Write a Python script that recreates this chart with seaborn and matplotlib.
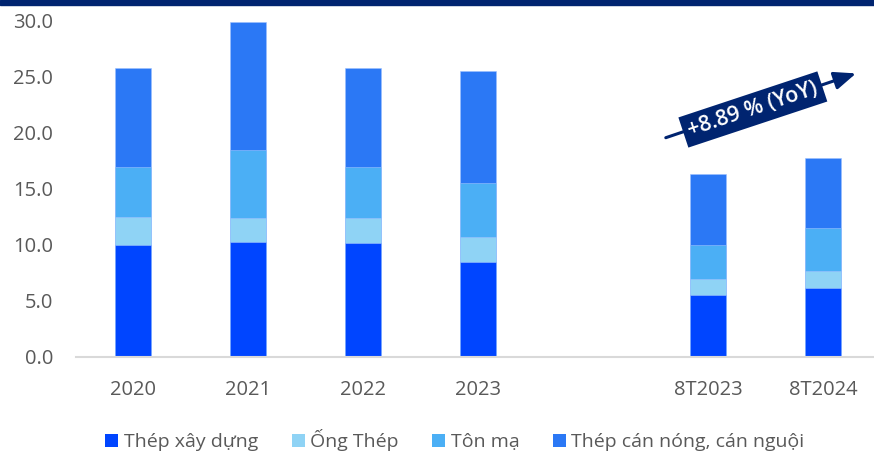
import numpy as np
import pandas as pd
import matplotlib
matplotlib.use("Agg")
import matplotlib.pyplot as plt
import seaborn as sns
from matplotlib.patches import Patch, Rectangle

categories = ["2020", "2021", "2022", "2023", "8T2023", "8T2024"]
axis_order = ["2020", "2021", "2022", "2023", " ", "8T2023", "8T2024"]
thep_xay_dung = [10.0, 10.3, 10.2, 8.5, 5.5, 6.2]
ong_thep = [2.5, 2.1, 2.2, 2.2, 1.5, 1.5]
ton_ma = [4.5, 6.1, 4.6, 4.8, 3.0, 3.8]
thep_can = [8.8, 11.4, 8.8, 10.0, 6.3, 6.25]
series_names = ["Thép xây dựng", "Ống Thép", "Tôn mạ", "Thép cán nóng, cán nguội"]
series_colors = ["#0045FF", "#8FD3F5", "#4BAFF5", "#2B78F5"]
yticks = [0, 5, 10, 15, 20, 25, 30]
yoy_label = "+8.89 % (YoY)"

sns.set_theme(style="white")
plt.rcParams["font.family"] = ["Open Sans", "DejaVu Sans"]

df = pd.DataFrame({
    "cat": categories,
    "s1": thep_xay_dung,
    "s2": ong_thep,
    "s3": ton_ma,
    "s4": thep_can,
})
df["c1"] = df["s1"]
df["c2"] = df["c1"] + df["s2"]
df["c3"] = df["c2"] + df["s3"]
df["c4"] = df["c3"] + df["s4"]

W, H = 874, 451
fig = plt.figure(figsize=(W / 100, H / 100), dpi=100)
ax = fig.add_axes([75.5 / W, (H - 357) / H, (W - 75.5) / W, (357 - 21) / H])

for col, color in zip(["c4", "c3", "c2", "c1"], series_colors[::-1]):
    sns.barplot(data=df, x="cat", y=col, order=axis_order, color=color,
                width=0.31, saturation=1, ax=ax, edgecolor="#9CC0FF", linewidth=0.4)

ax.set_xlim(-0.5, (W - 133) / 115)
ax.set_ylim(0, 30)
ax.set_yticks(yticks)
ax.set_yticklabels([f"{v:.1f}" for v in yticks])
ax.set_xlabel("")
ax.set_ylabel("")
for s in ["top", "right", "left"]:
    ax.spines[s].set_visible(False)
ax.spines["bottom"].set_color("#D9D9D9")
ax.spines["bottom"].set_linewidth(1.5)
ax.tick_params(axis="both", length=0, labelsize=14.5, colors="#595959")
ax.tick_params(axis="y", pad=16)
ax.tick_params(axis="x", pad=16.5)

# YoY annotation
ax.annotate("", xy=(6.31, 25.4), xytext=(4.61, 19.5), xycoords="data",
            arrowprops=dict(arrowstyle="-|>,head_length=1.1,head_width=0.45",
                            color="#002470", lw=2.2), annotation_clip=False)
ax.text(5.39, 22.1, yoy_label, rotation=18.35, rotation_mode="anchor",
        ha="center", va="center", color="white", fontsize=15.5, fontweight="semibold",
        bbox=dict(boxstyle="square,pad=0.25", fc="#002470", ec="none"))

# top navy band
fig.patches.append(Rectangle((0, 1 - 5 / H), 1, 5 / H, transform=fig.transFigure,
                             color="#002470", zorder=10))

handles = [Patch(facecolor=c, edgecolor="none") for c in series_colors]
fig.legend(handles, series_names, loc="center", bbox_to_anchor=(455 / W, 11 / H),
           ncol=4, frameon=False, fontsize=14, handlelength=0.67, handleheight=0.67,
           handletextpad=0.3, columnspacing=1.7, labelcolor="#595959")

fig.savefig("out.png", dpi=100)
